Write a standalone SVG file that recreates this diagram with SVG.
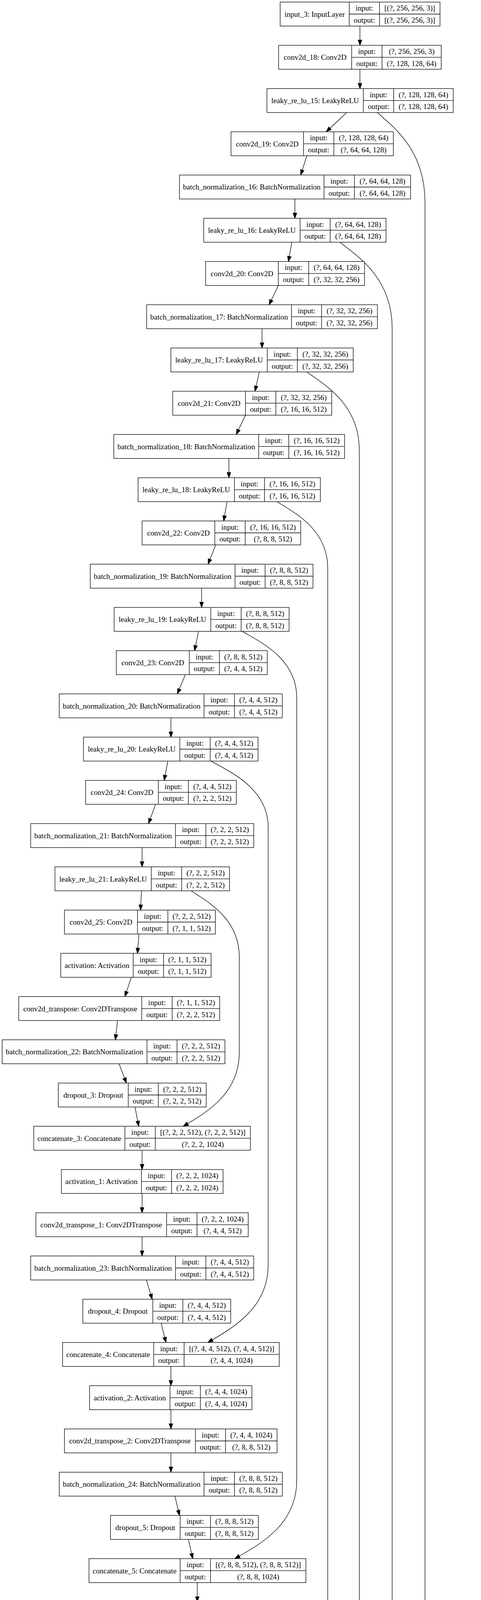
<svg xmlns="http://www.w3.org/2000/svg" width="1231" height="6160" viewBox="0 0 1231 6160">
<style>
.node rect{fill:#fff;stroke:#000;stroke-width:1.33}
.node path{fill:none;stroke:#000;stroke-width:1.33}
.node text{font-family:"Liberation Serif","Times New Roman",serif;font-size:19.2px;text-anchor:middle;fill:#000}
.edges path{fill:none;stroke:#000;stroke-width:1.33;marker-end:url(#ah)}
</style>
<defs>
<marker id="ah" markerUnits="userSpaceOnUse" markerWidth="16" markerHeight="12" viewBox="0 0 16 12" refX="14.3" refY="6" orient="auto">
<path d="M1,1.33 L14.3,6 L1,10.67 Z" fill="#000" stroke="#000" stroke-width="1.33"/>
</marker>
</defs>
<rect x="0" y="0" width="1231" height="6160" fill="#fff"/>
<g class="edges" id="connectors">
<path d="M921.2,66.66 L921.2,116.02"/>
<path d="M921.2,177.35 L921.2,226.71"/>
<path d="M887.4,288.04 L834.8,337.40"/>
<path d="M785.3,398.73 L769.6,448.09"/>
<path d="M754.7,509.42 L754.7,558.78"/>
<path d="M746.8,620.11 L738.2,669.47"/>
<path d="M712.3,730.80 L688.7,780.16"/>
<path d="M670.6,841.49 L670.6,890.85"/>
<path d="M663.6,952.18 L652.6,1001.54"/>
<path d="M628.2,1062.87 L604.7,1112.23"/>
<path d="M585.8,1173.56 L585.8,1222.92"/>
<path d="M581.1,1284.25 L572.5,1333.61"/>
<path d="M552.1,1394.94 L532.4,1444.30"/>
<path d="M515.9,1505.63 L515.9,1554.99"/>
<path d="M508.1,1616.32 L497.9,1665.68"/>
<path d="M474.3,1727.01 L453.9,1776.37"/>
<path d="M437.4,1837.70 L437.4,1887.06"/>
<path d="M429.6,1948.39 L420.1,1997.75"/>
<path d="M398.1,2059.08 L380.1,2108.44"/>
<path d="M363.6,2169.77 L363.6,2219.13"/>
<path d="M362.0,2280.46 L359.7,2329.82"/>
<path d="M355.7,2391.15 L351.8,2440.51"/>
<path d="M336.1,2501.84 L319.6,2551.20"/>
<path d="M300.8,2612.53 L295.3,2661.89"/>
<path d="M304.7,2723.22 L323.5,2772.58"/>
<path d="M345.5,2833.91 L355.0,2883.27"/>
<path d="M363.6,2944.60 L363.6,2993.96"/>
<path d="M363.6,3055.29 L363.6,3104.65"/>
<path d="M363.6,3165.98 L363.6,3215.34"/>
<path d="M374.6,3276.67 L389.5,3326.03"/>
<path d="M412.3,3387.36 L424.8,3436.72"/>
<path d="M437.4,3498.05 L437.4,3547.41"/>
<path d="M437.4,3608.74 L437.4,3658.10"/>
<path d="M437.4,3719.43 L437.4,3768.79"/>
<path d="M447.6,3830.12 L459.4,3879.48"/>
<path d="M482.2,3940.81 L493.2,3990.17"/>
<path d="M504.9,4051.50 L504.9,4100.86"/>
<path d="M504.9,4162.19 L504.9,4211.55"/>
<path d="M504.9,4272.88 L504.9,4322.24"/>
<path d="M528.5,4383.57 L562.3,4432.93"/>
<path d="M585.8,4494.26 L585.8,4543.62"/>
<path d="M585.8,4604.95 L585.8,4654.31"/>
<path d="M585.8,4715.64 L585.8,4765.00"/>
<path d="M610.2,4826.33 L643.9,4875.69"/>
<path d="M669.9,4937.02 L669.9,4986.38"/>
<path d="M669.9,5047.71 L669.9,5097.07"/>
<path d="M669.9,5158.40 L669.9,5207.76"/>
<path d="M693.4,5269.09 L726.4,5318.45"/>
<path d="M750.7,5379.78 L750.7,5429.14"/>
<path d="M750.7,5490.47 L750.7,5539.83"/>
<path d="M750.7,5601.16 L750.7,5650.52"/>
<path d="M798.6,5711.85 L870.1,5761.21"/>
<path d="M918.0,5822.54 L918.0,5871.90"/>
<path d="M918.0,5933.23 L918.0,5982.59"/>
<path d="M918.0,6043.92 L918.0,6093.28"/>
<path d="M965.9,288.04 C1002.4,322.5 1087.6,380 1087.6,518 L1087.6,5611 C1087.6,5693.6 1042.3,5731.2 1005.2,5761.21"/>
<path d="M870.1,620.11 C910.2,653.1 1003.6,708.1 1003.6,840.1 L1003.6,5222 C1003.6,5275.1 935.3,5299.2 879.5,5318.45"/>
<path d="M785.3,952.18 C825.6,982.2 919.6,1032.2 919.6,1152.2 L919.6,4770 C919.6,4828.1 851.3,4854.6 795.5,4875.69"/>
<path d="M709.1,1284.25 C748,1309.8 838.7,1352.3 838.7,1454.3 L838.7,4333 C838.7,4388 770.4,4413 714.6,4432.93"/>
<path d="M620.4,1616.32 C662.1,1641.8 759.4,1684.3 759.4,1786.3 L759.4,3790 C759.4,3900.1 672.2,3950.2 600.8,3990.17"/>
<path d="M540.3,1948.39 C584.1,1973.9 686.4,2016.4 686.4,2118.4 L686.4,3237 C686.4,3346.8 601.3,3396.8 531.6,3436.72"/>
<path d="M489.2,2280.46 C526.2,2306 612.5,2348.5 612.5,2450.5 L612.5,2693 C612.5,2797.7 533.5,2845.2 468.8,2883.27"/>
</g>
<g class="node" id="n01" transform="translate(0,5.33)"><rect x="717.0" y="0" width="409.1" height="61.33"/><path d="M893.7,0V61.33M971.4,0V61.33M893.7,30.67H1126.1"/><text x="805.35" y="37.4">input_3: InputLayer</text><text x="932.55" y="22">input:</text><text x="932.55" y="52.7">output:</text><text x="1048.75" y="22">[(?, 256, 256, 3)]</text><text x="1048.75" y="52.7">[(?, 256, 256, 3)]</text></g>
<g class="node" id="n02" transform="translate(0,116.02)"><rect x="713.1" y="0" width="416.2" height="61.33"/><path d="M900.0,0V61.33M977.7,0V61.33M900.0,30.67H1129.3"/><text x="806.55" y="37.4">conv2d_18: Conv2D</text><text x="938.85" y="22">input:</text><text x="938.85" y="52.7">output:</text><text x="1053.5" y="22">(?, 256, 256, 3)</text><text x="1053.5" y="52.7">(?, 128, 128, 64)</text></g>
<g class="node" id="n03" transform="translate(0,226.71)"><rect x="683.2" y="0" width="476.7" height="61.33"/><path d="M929.8,0V61.33M1007.5,0V61.33M929.8,30.67H1159.9"/><text x="806.5" y="37.4">leaky_re_lu_15: LeakyReLU</text><text x="968.65" y="22">input:</text><text x="968.65" y="52.7">output:</text><text x="1083.7" y="22">(?, 128, 128, 64)</text><text x="1083.7" y="52.7">(?, 128, 128, 64)</text></g>
<g class="node" id="n04" transform="translate(0,337.40)"><rect x="591.3" y="0" width="415.4" height="61.33"/><path d="M776.7,0V61.33M854.4,0V61.33M776.7,30.67H1006.7"/><text x="684.0" y="37.4">conv2d_19: Conv2D</text><text x="815.55" y="22">input:</text><text x="815.55" y="52.7">output:</text><text x="930.55" y="22">(?, 128, 128, 64)</text><text x="930.55" y="52.7">(?, 64, 64, 128)</text></g>
<g class="node" id="n05" transform="translate(0,448.09)"><rect x="459.4" y="0" width="591.3" height="61.33"/><path d="M829.3,0V61.33M907.0,0V61.33M829.3,30.67H1050.7"/><text x="644.35" y="37.4">batch_normalization_16: BatchNormalization</text><text x="868.15" y="22">input:</text><text x="868.15" y="52.7">output:</text><text x="978.85" y="22">(?, 64, 64, 128)</text><text x="978.85" y="52.7">(?, 64, 64, 128)</text></g>
<g class="node" id="n06" transform="translate(0,558.78)"><rect x="521.4" y="0" width="466.5" height="61.33"/><path d="M768.0,0V61.33M845.0,0V61.33M768.0,30.67H987.9"/><text x="644.7" y="37.4">leaky_re_lu_16: LeakyReLU</text><text x="806.5" y="22">input:</text><text x="806.5" y="52.7">output:</text><text x="916.45" y="22">(?, 64, 64, 128)</text><text x="916.45" y="52.7">(?, 64, 64, 128)</text></g>
<g class="node" id="n07" transform="translate(0,669.47)"><rect x="526.2" y="0" width="406.7" height="61.33"/><path d="M712.3,0V61.33M790.0,0V61.33M712.3,30.67H932.9"/><text x="619.25" y="37.4">conv2d_20: Conv2D</text><text x="751.15" y="22">input:</text><text x="751.15" y="52.7">output:</text><text x="861.45" y="22">(?, 64, 64, 128)</text><text x="861.45" y="52.7">(?, 32, 32, 256)</text></g>
<g class="node" id="n08" transform="translate(0,780.16)"><rect x="375.4" y="0" width="590.5" height="61.33"/><path d="M746.0,0V61.33M823.0,0V61.33M746.0,30.67H965.9"/><text x="560.7" y="37.4">batch_normalization_17: BatchNormalization</text><text x="784.5" y="22">input:</text><text x="784.5" y="52.7">output:</text><text x="894.45" y="22">(?, 32, 32, 256)</text><text x="894.45" y="52.7">(?, 32, 32, 256)</text></g>
<g class="node" id="n09" transform="translate(0,890.85)"><rect x="437.4" y="0" width="466.5" height="61.33"/><path d="M684.0,0V61.33M761.0,0V61.33M684.0,30.67H903.9"/><text x="560.7" y="37.4">leaky_re_lu_17: LeakyReLU</text><text x="722.5" y="22">input:</text><text x="722.5" y="52.7">output:</text><text x="832.45" y="22">(?, 32, 32, 256)</text><text x="832.45" y="52.7">(?, 32, 32, 256)</text></g>
<g class="node" id="n10" transform="translate(0,1001.54)"><rect x="442.1" y="0" width="406.8" height="61.33"/><path d="M628.2,0V61.33M706.0,0V61.33M628.2,30.67H848.9"/><text x="535.15" y="37.4">conv2d_21: Conv2D</text><text x="667.1" y="22">input:</text><text x="667.1" y="52.7">output:</text><text x="777.45" y="22">(?, 32, 32, 256)</text><text x="777.45" y="52.7">(?, 16, 16, 512)</text></g>
<g class="node" id="n11" transform="translate(0,1112.23)"><rect x="291.3" y="0" width="590.6" height="61.33"/><path d="M662.0,0V61.33M739.0,0V61.33M662.0,30.67H881.9"/><text x="476.65" y="37.4">batch_normalization_18: BatchNormalization</text><text x="700.5" y="22">input:</text><text x="700.5" y="52.7">output:</text><text x="810.45" y="22">(?, 16, 16, 512)</text><text x="810.45" y="52.7">(?, 16, 16, 512)</text></g>
<g class="node" id="n12" transform="translate(0,1222.92)"><rect x="353.4" y="0" width="466.5" height="61.33"/><path d="M600.0,0V61.33M676.9,0V61.33M600.0,30.67H819.9"/><text x="476.7" y="37.4">leaky_re_lu_18: LeakyReLU</text><text x="638.45" y="22">input:</text><text x="638.45" y="52.7">output:</text><text x="748.4" y="22">(?, 16, 16, 512)</text><text x="748.4" y="52.7">(?, 16, 16, 512)</text></g>
<g class="node" id="n13" transform="translate(0,1333.61)"><rect x="363.6" y="0" width="406.0" height="61.33"/><path d="M549.7,0V61.33M627.5,0V61.33M549.7,30.67H769.6"/><text x="456.65" y="37.4">conv2d_22: Conv2D</text><text x="588.6" y="22">input:</text><text x="588.6" y="52.7">output:</text><text x="698.55" y="22">(?, 16, 16, 512)</text><text x="698.55" y="52.7">(?, 8, 8, 512)</text></g>
<g class="node" id="n14" transform="translate(0,1444.30)"><rect x="230.9" y="0" width="570.1" height="61.33"/><path d="M601.5,0V61.33M678.5,0V61.33M601.5,30.67H801.0"/><text x="416.2" y="37.4">batch_normalization_19: BatchNormalization</text><text x="640.0" y="22">input:</text><text x="640.0" y="52.7">output:</text><text x="739.75" y="22">(?, 8, 8, 512)</text><text x="739.75" y="52.7">(?, 8, 8, 512)</text></g>
<g class="node" id="n15" transform="translate(0,1554.99)"><rect x="292.1" y="0" width="447.7" height="61.33"/><path d="M539.5,0V61.33M617.2,0V61.33M539.5,30.67H739.8"/><text x="415.8" y="37.4">leaky_re_lu_19: LeakyReLU</text><text x="578.35" y="22">input:</text><text x="578.35" y="52.7">output:</text><text x="678.5" y="22">(?, 8, 8, 512)</text><text x="678.5" y="52.7">(?, 8, 8, 512)</text></g>
<g class="node" id="n16" transform="translate(0,1665.68)"><rect x="297.6" y="0" width="386.4" height="61.33"/><path d="M484.5,0V61.33M561.5,0V61.33M484.5,30.67H684.0"/><text x="391.05" y="37.4">conv2d_23: Conv2D</text><text x="523.0" y="22">input:</text><text x="523.0" y="52.7">output:</text><text x="622.75" y="22">(?, 8, 8, 512)</text><text x="622.75" y="52.7">(?, 4, 4, 512)</text></g>
<g class="node" id="n17" transform="translate(0,1776.37)"><rect x="151.6" y="0" width="570.9" height="61.33"/><path d="M522.2,0V61.33M600.0,0V61.33M522.2,30.67H722.5"/><text x="336.9" y="37.4">batch_normalization_20: BatchNormalization</text><text x="561.1" y="22">input:</text><text x="561.1" y="52.7">output:</text><text x="661.25" y="22">(?, 4, 4, 512)</text><text x="661.25" y="52.7">(?, 4, 4, 512)</text></g>
<g class="node" id="n18" transform="translate(0,1887.06)"><rect x="213.6" y="0" width="446.8" height="61.33"/><path d="M460.2,0V61.33M537.9,0V61.33M460.2,30.67H660.4"/><text x="336.9" y="37.4">leaky_re_lu_20: LeakyReLU</text><text x="499.05" y="22">input:</text><text x="499.05" y="52.7">output:</text><text x="599.15" y="22">(?, 4, 4, 512)</text><text x="599.15" y="52.7">(?, 4, 4, 512)</text></g>
<g class="node" id="n19" transform="translate(0,1997.75)"><rect x="219.1" y="0" width="385.6" height="61.33"/><path d="M405.2,0V61.33M482.2,0V61.33M405.2,30.67H604.7"/><text x="312.15" y="37.4">conv2d_24: Conv2D</text><text x="443.7" y="22">input:</text><text x="443.7" y="52.7">output:</text><text x="543.45" y="22">(?, 4, 4, 512)</text><text x="543.45" y="52.7">(?, 2, 2, 512)</text></g>
<g class="node" id="n20" transform="translate(0,2108.44)"><rect x="78.5" y="0" width="570.9" height="61.33"/><path d="M449.2,0V61.33M526.9,0V61.33M449.2,30.67H649.4"/><text x="263.85" y="37.4">batch_normalization_21: BatchNormalization</text><text x="488.05" y="22">input:</text><text x="488.05" y="52.7">output:</text><text x="588.15" y="22">(?, 2, 2, 512)</text><text x="588.15" y="52.7">(?, 2, 2, 512)</text></g>
<g class="node" id="n21" transform="translate(0,2219.13)"><rect x="140.6" y="0" width="446.8" height="61.33"/><path d="M387.2,0V61.33M464.9,0V61.33M387.2,30.67H587.4"/><text x="263.9" y="37.4">leaky_re_lu_21: LeakyReLU</text><text x="426.05" y="22">input:</text><text x="426.05" y="52.7">output:</text><text x="526.15" y="22">(?, 2, 2, 512)</text><text x="526.15" y="52.7">(?, 2, 2, 512)</text></g>
<g class="node" id="n22" transform="translate(0,2329.82)"><rect x="164.9" y="0" width="386.4" height="61.33"/><path d="M351.8,0V61.33M429.6,0V61.33M351.8,30.67H551.3"/><text x="258.35" y="37.4">conv2d_25: Conv2D</text><text x="390.7" y="22">input:</text><text x="390.7" y="52.7">output:</text><text x="490.45" y="22">(?, 2, 2, 512)</text><text x="490.45" y="52.7">(?, 1, 1, 512)</text></g>
<g class="node" id="n23" transform="translate(0,2440.51)"><rect x="155.5" y="0" width="384.8" height="61.33"/><path d="M340.8,0V61.33M418.6,0V61.33M340.8,30.67H540.3"/><text x="248.15" y="37.4">activation: Activation</text><text x="379.7" y="22">input:</text><text x="379.7" y="52.7">output:</text><text x="479.45" y="22">(?, 1, 1, 512)</text><text x="479.45" y="52.7">(?, 1, 1, 512)</text></g>
<g class="node" id="n24" transform="translate(0,2551.20)"><rect x="47.9" y="0" width="514.4" height="61.33"/><path d="M362.8,0V61.33M440.6,0V61.33M362.8,30.67H562.3"/><text x="205.35" y="37.4">conv2d_transpose: Conv2DTranspose</text><text x="401.7" y="22">input:</text><text x="401.7" y="52.7">output:</text><text x="501.45" y="22">(?, 1, 1, 512)</text><text x="501.45" y="52.7">(?, 2, 2, 512)</text></g>
<g class="node" id="n25" transform="translate(0,2661.89)"><rect x="5.5" y="0" width="570.1" height="61.33"/><path d="M376.2,0V61.33M453.1,0V61.33M376.2,30.67H575.6"/><text x="190.85" y="37.4">batch_normalization_22: BatchNormalization</text><text x="414.65" y="22">input:</text><text x="414.65" y="52.7">output:</text><text x="514.35" y="22">(?, 2, 2, 512)</text><text x="514.35" y="52.7">(?, 2, 2, 512)</text></g>
<g class="node" id="n26" transform="translate(0,2772.58)"><rect x="149.2" y="0" width="378.5" height="61.33"/><path d="M328.3,0V61.33M405.2,0V61.33M328.3,30.67H527.7"/><text x="238.75" y="37.4">dropout_3: Dropout</text><text x="366.75" y="22">input:</text><text x="366.75" y="52.7">output:</text><text x="466.45" y="22">(?, 2, 2, 512)</text><text x="466.45" y="52.7">(?, 2, 2, 512)</text></g>
<g class="node" id="n27" transform="translate(0,2883.27)"><rect x="86.4" y="0" width="554.4" height="61.33"/><path d="M319.6,0V61.33M397.4,0V61.33M319.6,30.67H640.8"/><text x="203.0" y="37.4">concatenate_3: Concatenate</text><text x="358.5" y="22">input:</text><text x="358.5" y="52.7">output:</text><text x="519.1" y="22">[(?, 2, 2, 512), (?, 2, 2, 512)]</text><text x="519.1" y="52.7">(?, 2, 2, 1024)</text></g>
<g class="node" id="n28" transform="translate(0,2993.96)"><rect x="157.1" y="0" width="413.8" height="61.33"/><path d="M362.0,0V61.33M439.0,0V61.33M362.0,30.67H570.9"/><text x="259.55" y="37.4">activation_1: Activation</text><text x="400.5" y="22">input:</text><text x="400.5" y="52.7">output:</text><text x="504.95" y="22">(?, 2, 2, 1024)</text><text x="504.95" y="52.7">(?, 2, 2, 1024)</text></g>
<g class="node" id="n29" transform="translate(0,3104.65)"><rect x="91.9" y="0" width="543.4" height="61.33"/><path d="M426.4,0V61.33M504.2,0V61.33M426.4,30.67H635.3"/><text x="259.15" y="37.4">conv2d_transpose_1: Conv2DTranspose</text><text x="465.3" y="22">input:</text><text x="465.3" y="52.7">output:</text><text x="569.75" y="22">(?, 2, 2, 1024)</text><text x="569.75" y="52.7">(?, 4, 4, 512)</text></g>
<g class="node" id="n30" transform="translate(0,3215.34)"><rect x="78.5" y="0" width="570.9" height="61.33"/><path d="M449.2,0V61.33M526.9,0V61.33M449.2,30.67H649.4"/><text x="263.85" y="37.4">batch_normalization_23: BatchNormalization</text><text x="488.05" y="22">input:</text><text x="488.05" y="52.7">output:</text><text x="588.15" y="22">(?, 4, 4, 512)</text><text x="588.15" y="52.7">(?, 4, 4, 512)</text></g>
<g class="node" id="n31" transform="translate(0,3326.03)"><rect x="212.0" y="0" width="378.5" height="61.33"/><path d="M391.1,0V61.33M468.0,0V61.33M391.1,30.67H590.5"/><text x="301.55" y="37.4">dropout_4: Dropout</text><text x="429.55" y="22">input:</text><text x="429.55" y="52.7">output:</text><text x="529.25" y="22">(?, 4, 4, 512)</text><text x="529.25" y="52.7">(?, 4, 4, 512)</text></g>
<g class="node" id="n32" transform="translate(0,3436.72)"><rect x="160.2" y="0" width="554.4" height="61.33"/><path d="M393.4,0V61.33M471.2,0V61.33M393.4,30.67H714.6"/><text x="276.8" y="37.4">concatenate_4: Concatenate</text><text x="432.3" y="22">input:</text><text x="432.3" y="52.7">output:</text><text x="592.9" y="22">[(?, 4, 4, 512), (?, 4, 4, 512)]</text><text x="592.9" y="52.7">(?, 4, 4, 1024)</text></g>
<g class="node" id="n33" transform="translate(0,3547.41)"><rect x="229.3" y="0" width="415.4" height="61.33"/><path d="M435.1,0V61.33M512.8,0V61.33M435.1,30.67H644.7"/><text x="332.2" y="37.4">activation_2: Activation</text><text x="473.95" y="22">input:</text><text x="473.95" y="52.7">output:</text><text x="578.75" y="22">(?, 4, 4, 1024)</text><text x="578.75" y="52.7">(?, 4, 4, 1024)</text></g>
<g class="node" id="n34" transform="translate(0,3658.10)"><rect x="164.9" y="0" width="544.2" height="61.33"/><path d="M500.2,0V61.33M577.2,0V61.33M500.2,30.67H709.1"/><text x="332.55" y="37.4">conv2d_transpose_2: Conv2DTranspose</text><text x="538.7" y="22">input:</text><text x="538.7" y="52.7">output:</text><text x="643.15" y="22">(?, 4, 4, 1024)</text><text x="643.15" y="52.7">(?, 8, 8, 512)</text></g>
<g class="node" id="n35" transform="translate(0,3768.79)"><rect x="151.6" y="0" width="570.9" height="61.33"/><path d="M522.2,0V61.33M600.0,0V61.33M522.2,30.67H722.5"/><text x="336.9" y="37.4">batch_normalization_24: BatchNormalization</text><text x="561.1" y="22">input:</text><text x="561.1" y="52.7">output:</text><text x="661.25" y="22">(?, 8, 8, 512)</text><text x="661.25" y="52.7">(?, 8, 8, 512)</text></g>
<g class="node" id="n36" transform="translate(0,3879.48)"><rect x="282.7" y="0" width="378.5" height="61.33"/><path d="M461.0,0V61.33M538.7,0V61.33M461.0,30.67H661.2"/><text x="371.85" y="37.4">dropout_5: Dropout</text><text x="499.85" y="22">input:</text><text x="499.85" y="52.7">output:</text><text x="599.95" y="22">(?, 8, 8, 512)</text><text x="599.95" y="52.7">(?, 8, 8, 512)</text></g>
<g class="node" id="n37" transform="translate(0,3990.17)"><rect x="227.7" y="0" width="555.2" height="61.33"/><path d="M461.0,0V61.33M538.7,0V61.33M461.0,30.67H782.9"/><text x="344.35" y="37.4">concatenate_5: Concatenate</text><text x="499.85" y="22">input:</text><text x="499.85" y="52.7">output:</text><text x="660.8" y="22">[(?, 8, 8, 512), (?, 8, 8, 512)]</text><text x="660.8" y="52.7">(?, 8, 8, 1024)</text></g>
<g class="node" id="n38" transform="translate(0,4100.86)"><rect x="298.4" y="0" width="413.9" height="61.33"/><path d="M503.4,0V61.33M581.1,0V61.33M503.4,30.67H712.3"/><text x="400.9" y="37.4">activation_3: Activation</text><text x="542.25" y="22">input:</text><text x="542.25" y="52.7">output:</text><text x="646.7" y="22">(?, 8, 8, 1024)</text><text x="646.7" y="52.7">(?, 8, 8, 1024)</text></g>
<g class="node" id="n39" transform="translate(0,4211.55)"><rect x="227.7" y="0" width="555.2" height="61.33"/><path d="M563.1,0V61.33M640.0,0V61.33M563.1,30.67H782.9"/><text x="395.4" y="37.4">conv2d_transpose_3: Conv2DTranspose</text><text x="601.55" y="22">input:</text><text x="601.55" y="52.7">output:</text><text x="711.45" y="22">(?, 8, 8, 1024)</text><text x="711.45" y="52.7">(?, 16, 16, 512)</text></g>
<g class="node" id="n40" transform="translate(0,4322.24)"><rect x="209.7" y="0" width="590.5" height="61.33"/><path d="M581.1,0V61.33M658.1,0V61.33M581.1,30.67H800.2"/><text x="395.4" y="37.4">batch_normalization_25: BatchNormalization</text><text x="619.6" y="22">input:</text><text x="619.6" y="52.7">output:</text><text x="729.15" y="22">(?, 16, 16, 512)</text><text x="729.15" y="52.7">(?, 16, 16, 512)</text></g>
<g class="node" id="n41" transform="translate(0,4432.93)"><rect x="288.2" y="0" width="594.5" height="61.33"/><path d="M520.7,0V61.33M598.4,0V61.33M520.7,30.67H882.7"/><text x="404.45" y="37.4">concatenate_6: Concatenate</text><text x="559.55" y="22">input:</text><text x="559.55" y="52.7">output:</text><text x="740.55" y="22">[(?, 16, 16, 512), (?, 16, 16, 512)]</text><text x="740.55" y="52.7">(?, 16, 16, 1024)</text></g>
<g class="node" id="n42" transform="translate(0,4543.62)"><rect x="369.1" y="0" width="434.3" height="61.33"/><path d="M574.8,0V61.33M651.8,0V61.33M574.8,30.67H803.4"/><text x="471.95" y="37.4">activation_4: Activation</text><text x="613.3" y="22">input:</text><text x="613.3" y="52.7">output:</text><text x="727.6" y="22">(?, 16, 16, 1024)</text><text x="727.6" y="52.7">(?, 16, 16, 1024)</text></g>
<g class="node" id="n43" transform="translate(0,4654.31)"><rect x="304.7" y="0" width="563.8" height="61.33"/><path d="M639.2,0V61.33M717.0,0V61.33M639.2,30.67H868.5"/><text x="471.95" y="37.4">conv2d_transpose_4: Conv2DTranspose</text><text x="678.1" y="22">input:</text><text x="678.1" y="52.7">output:</text><text x="792.75" y="22">(?, 16, 16, 1024)</text><text x="792.75" y="52.7">(?, 32, 32, 256)</text></g>
<g class="node" id="n44" transform="translate(0,4765.00)"><rect x="291.3" y="0" width="590.6" height="61.33"/><path d="M662.0,0V61.33M739.0,0V61.33M662.0,30.67H881.9"/><text x="476.65" y="37.4">batch_normalization_26: BatchNormalization</text><text x="700.5" y="22">input:</text><text x="700.5" y="52.7">output:</text><text x="810.45" y="22">(?, 32, 32, 256)</text><text x="810.45" y="52.7">(?, 32, 32, 256)</text></g>
<g class="node" id="n45" transform="translate(0,4875.69)"><rect x="372.2" y="0" width="593.7" height="61.33"/><path d="M605.5,0V61.33M683.2,0V61.33M605.5,30.67H965.9"/><text x="488.85" y="37.4">concatenate_7: Concatenate</text><text x="644.35" y="22">input:</text><text x="644.35" y="52.7">output:</text><text x="824.55" y="22">[(?, 32, 32, 256), (?, 32, 32, 256)]</text><text x="824.55" y="52.7">(?, 32, 32, 512)</text></g>
<g class="node" id="n46" transform="translate(0,4986.38)"><rect x="457.8" y="0" width="425.7" height="61.33"/><path d="M663.6,0V61.33M741.3,0V61.33M663.6,30.67H883.5"/><text x="560.7" y="37.4">activation_5: Activation</text><text x="702.45" y="22">input:</text><text x="702.45" y="52.7">output:</text><text x="812.4" y="22">(?, 32, 32, 512)</text><text x="812.4" y="52.7">(?, 32, 32, 512)</text></g>
<g class="node" id="n47" transform="translate(0,5097.07)"><rect x="393.4" y="0" width="554.5" height="61.33"/><path d="M728.0,0V61.33M805.7,0V61.33M728.0,30.67H947.9"/><text x="560.7" y="37.4">conv2d_transpose_5: Conv2DTranspose</text><text x="766.85" y="22">input:</text><text x="766.85" y="52.7">output:</text><text x="876.8" y="22">(?, 32, 32, 512)</text><text x="876.8" y="52.7">(?, 64, 64, 128)</text></g>
<g class="node" id="n48" transform="translate(0,5207.76)"><rect x="375.4" y="0" width="590.5" height="61.33"/><path d="M746.0,0V61.33M823.0,0V61.33M746.0,30.67H965.9"/><text x="560.7" y="37.4">batch_normalization_27: BatchNormalization</text><text x="784.5" y="22">input:</text><text x="784.5" y="52.7">output:</text><text x="894.45" y="22">(?, 64, 64, 128)</text><text x="894.45" y="52.7">(?, 64, 64, 128)</text></g>
<g class="node" id="n49" transform="translate(0,5318.45)"><rect x="453.9" y="0" width="594.5" height="61.33"/><path d="M687.1,0V61.33M764.1,0V61.33M687.1,30.67H1048.4"/><text x="570.5" y="37.4">concatenate_8: Concatenate</text><text x="725.6" y="22">input:</text><text x="725.6" y="52.7">output:</text><text x="906.25" y="22">[(?, 64, 64, 128), (?, 64, 64, 128)]</text><text x="906.25" y="52.7">(?, 64, 64, 256)</text></g>
<g class="node" id="n50" transform="translate(0,5429.14)"><rect x="537.9" y="0" width="425.7" height="61.33"/><path d="M742.9,0V61.33M820.6,0V61.33M742.9,30.67H963.6"/><text x="640.4" y="37.4">activation_6: Activation</text><text x="781.75" y="22">input:</text><text x="781.75" y="52.7">output:</text><text x="892.1" y="22">(?, 64, 64, 256)</text><text x="892.1" y="52.7">(?, 64, 64, 256)</text></g>
<g class="node" id="n51" transform="translate(0,5539.83)"><rect x="468.8" y="0" width="563.9" height="61.33"/><path d="M803.4,0V61.33M881.1,0V61.33M803.4,30.67H1032.7"/><text x="636.1" y="37.4">conv2d_transpose_6: Conv2DTranspose</text><text x="842.25" y="22">input:</text><text x="842.25" y="52.7">output:</text><text x="956.9" y="22">(?, 64, 64, 256)</text><text x="956.9" y="52.7">(?, 128, 128, 64)</text></g>
<g class="node" id="n52" transform="translate(0,5650.52)"><rect x="450.8" y="0" width="599.9" height="61.33"/><path d="M821.4,0V61.33M899.2,0V61.33M821.4,30.67H1050.7"/><text x="636.1" y="37.4">batch_normalization_28: BatchNormalization</text><text x="860.3" y="22">input:</text><text x="860.3" y="52.7">output:</text><text x="974.95" y="22">(?, 128, 128, 64)</text><text x="974.95" y="52.7">(?, 128, 128, 64)</text></g>
<g class="node" id="n53" transform="translate(0,5761.21)"><rect x="611.7" y="0" width="614.2" height="61.33"/><path d="M845.0,0V61.33M922.7,0V61.33M845.0,30.67H1225.9"/><text x="728.35" y="37.4">concatenate_9: Concatenate</text><text x="883.85" y="22">input:</text><text x="883.85" y="52.7">output:</text><text x="1074.3" y="22">[(?, 128, 128, 64), (?, 128, 128, 64)]</text><text x="1074.3" y="52.7">(?, 128, 128, 128)</text></g>
<g class="node" id="n54" transform="translate(0,5871.90)"><rect x="696.6" y="0" width="444.4" height="61.33"/><path d="M901.5,0V61.33M979.2,0V61.33M901.5,30.67H1141.0"/><text x="799.05" y="37.4">activation_7: Activation</text><text x="940.35" y="22">input:</text><text x="940.35" y="52.7">output:</text><text x="1060.1" y="22">(?, 128, 128, 128)</text><text x="1060.1" y="52.7">(?, 128, 128, 128)</text></g>
<g class="node" id="n55" transform="translate(0,5982.59)"><rect x="631.4" y="0" width="574.0" height="61.33"/><path d="M965.9,0V61.33M1043.7,0V61.33M965.9,30.67H1205.4"/><text x="798.65" y="37.4">conv2d_transpose_7: Conv2DTranspose</text><text x="1004.8" y="22">input:</text><text x="1004.8" y="52.7">output:</text><text x="1124.55" y="22">(?, 128, 128, 128)</text><text x="1124.55" y="52.7">(?, 256, 256, 3)</text></g>
<g class="node" id="n56" transform="translate(0,6093.28)"><rect x="706.8" y="0" width="424.8" height="61.33"/><path d="M911.7,0V61.33M988.7,0V61.33M911.7,30.67H1131.6"/><text x="809.25" y="37.4">activation_8: Activation</text><text x="950.2" y="22">input:</text><text x="950.2" y="52.7">output:</text><text x="1060.15" y="22">(?, 256, 256, 3)</text><text x="1060.15" y="52.7">(?, 256, 256, 3)</text></g>
</svg>
